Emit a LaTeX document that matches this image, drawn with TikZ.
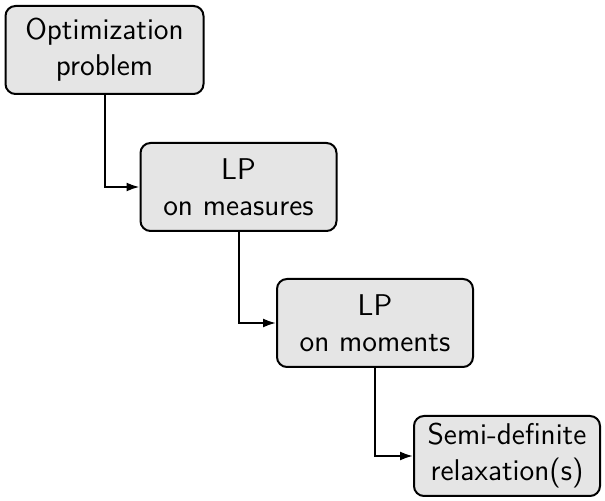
\documentclass[tikz,border=0pt]{standalone}
\usetikzlibrary{arrows.meta}

\tikzset{
  stagebox/.style={draw=black, line width=1pt, rounded corners=5pt, fill=gray!20,
    align=center, font=\sffamily\fontsize{15}{18}\selectfont, inner sep=0pt},
  flow/.style={-{Latex[length=6.5pt,width=4.5pt]}, line width=1pt}
}

\begin{document}
\begin{tikzpicture}[x=0.5pt, y=-0.5pt]
  \useasboundingbox (0,0) rectangle (605,501);
  % the four stages
  \node[stagebox, minimum width=99pt, minimum height=44pt] (optim) at (104.5,50) {Optimization\\problem};
  \node[stagebox, minimum width=98pt, minimum height=44pt] (measures) at (238.5,187) {LP\\on measures};
  \node[stagebox, minimum width=98pt, minimum height=44pt] (moments) at (375,323) {LP\\on moments};
  \node[stagebox, minimum width=93pt, minimum height=40pt] (sdp) at (507,456) {Semi-definite\\relaxation(s)};

  % connectors
  \draw[flow] (optim.south) |- (measures.west);
  \draw[flow] (measures.south) |- (moments.west);
  \draw[flow] (moments.south) |- (sdp.west);
\end{tikzpicture}
\end{document}
